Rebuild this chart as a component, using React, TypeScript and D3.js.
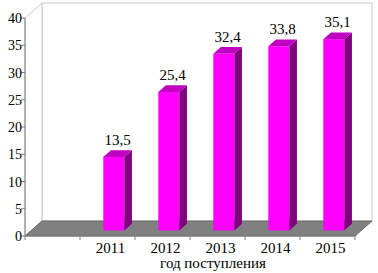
import React from "react";
import * as d3 from "d3";

const categories = ["", "2011", "2012", "2013", "2014", "2015"];
const values: (number | null)[] = [null, 13.5, 25.4, 32.4, 33.8, 35.1];
const valueLabels = ["", "13,5", "25,4", "32,4", "33,8", "35,1"];
const yTicks = [0, 5, 10, 15, 20, 25, 30, 35, 40];
const xTitle = "год поступления";

const W = 378;
const H = 273;
const X0 = 25;
const X1 = 355;
const Y0 = 236;
const Y1 = 18;
const DX = 17;
const DY = -15;

export default function App() {
  const x = d3.scaleBand<string>().domain(categories).range([X0, X1]).padding(0);
  const y = d3.scaleLinear().domain([0, 40]).range([Y0, Y1]);
  const step = x.step();
  const bw = 21;
  const fFront = 0.37;
  const fDepth = 0.45;
  const fdx = fFront * DX;
  const fdy = fFront * DY;
  const bdx = fDepth * DX;
  const bdy = fDepth * DY;
  const font = "Liberation Serif, DejaVu Serif, Times New Roman, serif";

  const pts = (a: number[][]) => a.map((p) => p.join(",")).join(" ");

  return (
    <svg
      width={W}
      height={H}
      style={{ position: "absolute", left: 0, top: 0, background: "#fff", fontFamily: font }}
    >
      {/* back wall */}
      <rect
        x={X0 + DX}
        y={Y1 + DY}
        width={X1 - X0}
        height={Y0 - Y1}
        fill="#fff"
        stroke="#c8c8c8"
        strokeWidth={1}
      />
      {/* left wall */}
      <polygon
        points={pts([
          [X0, Y1],
          [X0 + DX, Y1 + DY],
          [X0 + DX, Y0 + DY],
          [X0, Y0],
        ])}
        fill="#fff"
        stroke="#c8c8c8"
        strokeWidth={1}
      />
      {/* floor */}
      <polygon
        points={pts([
          [X0, Y0],
          [X1, Y0],
          [X1 + DX, Y0 + DY],
          [X0 + DX, Y0 + DY],
        ])}
        fill="#808080"
        stroke="#6a6a6a"
        strokeWidth={1}
      />
      {/* bars */}
      {categories.map((c, i) => {
        const v = values[i];
        if (v == null) return null;
        const xl = (x(c) as number) + (step - bw) / 2 + fdx;
        const xr = xl + bw;
        const yb = Y0 + fdy;
        const yt = y(v) + fdy;
        return (
          <g key={c}>
            <rect x={xl} y={yt} width={bw} height={yb - yt} fill="#ff00ff" />
            <polygon
              points={pts([
                [xr, yt],
                [xr + bdx, yt + bdy],
                [xr + bdx, yb + bdy],
                [xr, yb],
              ])}
              fill="#800080"
            />
            <polygon
              points={pts([
                [xl, yt],
                [xl + bdx, yt + bdy],
                [xr + bdx, yt + bdy],
                [xr, yt],
              ])}
              fill="#c000c0"
            />
            <text
              x={xl + bw / 2 + bdx / 2}
              y={yt + bdy - 5}
              textAnchor="middle"
              fontSize={15}
              fill="#000"
            >
              {valueLabels[i]}
            </text>
          </g>
        );
      })}
      {/* y axis */}
      <line x1={X0} y1={Y1} x2={X0} y2={Y0} stroke="#808080" />
      {yTicks.map((t) => (
        <g key={t}>
          <line x1={X0 - 4} x2={X0} y1={y(t)} y2={y(t)} stroke="#808080" />
          <text x={X0 - 3} y={y(t) + 5} textAnchor="end" fontSize={14} fill="#000">
            {t}
          </text>
        </g>
      ))}
      {/* x axis */}
      <line x1={X0} y1={Y0} x2={X1} y2={Y0} stroke="#808080" />
      {categories.map((c) => (
        <line
          key={"t" + c}
          x1={x(c) as number}
          x2={x(c) as number}
          y1={Y0}
          y2={Y0 + 4}
          stroke="#808080"
        />
      ))}
      <line x1={X1} x2={X1} y1={Y0} y2={Y0 + 4} stroke="#808080" />
      {categories.map((c) => (
        <text
          key={"l" + c}
          x={(x(c) as number) + step / 2 + 3}
          y={253}
          textAnchor="middle"
          fontSize={15}
          fill="#000"
        >
          {c}
        </text>
      ))}
      <text x={213} y={268} textAnchor="middle" fontSize={15} fill="#000">
        {xTitle}
      </text>
    </svg>
  );
}
